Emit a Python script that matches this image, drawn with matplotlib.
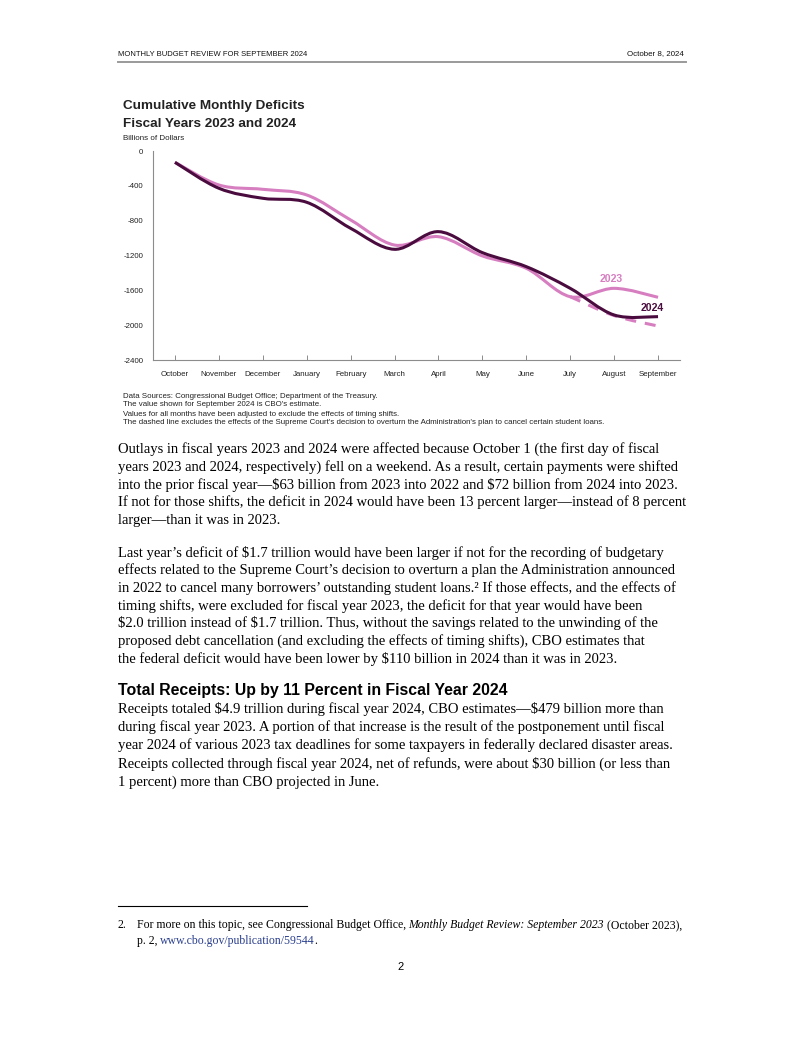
import matplotlib
matplotlib.use("Agg")
import matplotlib.pyplot as plt
import numpy as np
from matplotlib.path import Path
from matplotlib.patches import PathPatch
from matplotlib.lines import Line2D

plt.rcParams["text.parse_math"] = False

# chart data (billions of dollars, cumulative)
months = ["October", "November", "December", "January", "February", "March",
          "April", "May", "June", "July", "August", "September"]
fy2024 = [-130, -428, -543, -589, -888, -1129, -926, -1167, -1328, -1577, -1883, -1902]
fy2023 = [-130, -390, -440, -505, -792, -1080, -984, -1205, -1347, -1673, -1577, -1680]
dash_months = ["July", "August", "September"]
fy2023_no_loans = [-1673, -1890, -2010]
yticks = [0, -400, -800, -1200, -1600, -2000, -2400]

notes = [
    "Data Sources: Congressional Budget Office; Department of the Treasury.",
    "The value shown for September 2024 is CBO's estimate.",
    "Values for all months have been adjusted to exclude the effects of timing shifts.",
    "The dashed line excludes the effects of the Supreme Court's decision to overturn the Administration's plan to cancel certain student loans.",
]

para1 = [
    "Outlays in fiscal years 2023 and 2024 were affected because October 1 (the first day of fiscal",
    "years 2023 and 2024, respectively) fell on a weekend. As a result, certain payments were shifted",
    "into the prior fiscal year\u2014$63 billion from 2023 into 2022 and $72 billion from 2024 into 2023.",
    "If not for those shifts, the deficit in 2024 would have been 13 percent larger\u2014instead of 8 percent",
    "larger\u2014than it was in 2023.",
]
para2 = [
    "Last year\u2019s deficit of $1.7 trillion would have been larger if not for the recording of budgetary",
    "effects related to the Supreme Court\u2019s decision to overturn a plan the Administration announced",
    "in 2022 to cancel many borrowers\u2019 outstanding student loans.\u00b2 If those effects, and the effects of",
    "timing shifts, were excluded for fiscal year 2023, the deficit for that year would have been",
    "$2.0 trillion instead of $1.7 trillion. Thus, without the savings related to the unwinding of the",
    "proposed debt cancellation (and excluding the effects of timing shifts), CBO estimates that",
    "the federal deficit would have been lower by $110 billion in 2024 than it was in 2023.",
]
heading = "Total Receipts: Up by 11 Percent in Fiscal Year 2024"
para3 = [
    "Receipts totaled $4.9 trillion during fiscal year 2024, CBO estimates\u2014$479 billion more than",
    "during fiscal year 2023. A portion of that increase is the result of the postponement until fiscal",
    "year 2024 of various 2023 tax deadlines for some taxpayers in federally declared disaster areas.",
    "Receipts collected through fiscal year 2024, net of refunds, were about $30 billion (or less than",
    "1 percent) more than CBO projected in June.",
]

W, H = 802, 1037
DARK = "#4a0c3e"
PINK = "#d67ec0"
SANS = "Liberation Sans"
SERIF = "Liberation Serif"
BODY = 10.55


def fx(x):
    return x / W


def fy(y):
    return 1 - y / H


def smooth_path(xs, ys):
    # Catmull-Rom curve through the points, drawn as cubic Bezier segments
    pts = np.column_stack([xs, ys]).astype(float)
    ext = np.vstack([pts[0], pts, pts[-1]])
    verts = [pts[0]]
    codes = [Path.MOVETO]
    for i in range(len(pts) - 1):
        p0, p1, p2, p3 = ext[i], ext[i + 1], ext[i + 2], ext[i + 3]
        verts += [p1 + (p2 - p0) / 6, p2 - (p3 - p1) / 6, p2]
        codes += [Path.CURVE4] * 3
    return Path(verts, codes)


fig = plt.figure(figsize=(8.02, 10.37), dpi=100)

# page header
fig.text(fx(118), fy(54), "MONTHLY BUDGET REVIEW FOR SEPTEMBER 2024", fontsize=5.5,
         family=SANS, va="center", color="#111")
fig.text(fx(684), fy(54), "October 8, 2024", fontsize=5.7,
         family=SANS, va="center", ha="right", color="#111")
fig.add_artist(Line2D([fx(118), fx(686)], [fy(62), fy(62)], lw=1.4, color="#9a9a9a"))

# chart titles
fig.text(fx(123), fy(106), "Cumulative Monthly Deficits", fontsize=9.7, weight="bold",
         family=SANS, va="center", color="#222")
fig.text(fx(123), fy(124), "Fiscal Years 2023 and 2024", fontsize=9.7, weight="bold",
         family=SANS, va="center", color="#222")
fig.text(fx(123), fy(139), "Billions of Dollars", fontsize=5.8, family=SANS,
         va="center", color="#222")

ax = fig.add_axes([fx(153), fy(360), 527 / W, 209 / H])
x = np.arange(len(months))
xd = [months.index(m) for m in dash_months]

ax.add_patch(PathPatch(smooth_path(xd, fy2023_no_loans), fill=False, ec=PINK, lw=2.2,
                       ls=(0, (3.6, 2.9)), capstyle="butt"))
ax.add_patch(PathPatch(smooth_path(x, fy2023), fill=False, ec=PINK, lw=2.2))
ax.add_patch(PathPatch(smooth_path(x, fy2024), fill=False, ec=DARK, lw=2.2))

ax.text(9.93, -1470, "2023", color=PINK, fontsize=7.6, weight="bold", family=SANS,
        ha="center", va="center")
ax.text(10.87, -1803, "2024", color=DARK, fontsize=7.6, weight="bold", family=SANS,
        ha="center", va="center")

ax.set_xlim(-0.5, 11.5)
ax.set_ylim(-2400, 0)
ax.set_xticks(x)
ax.set_xticklabels(months)
ax.set_yticks(yticks)
ax.set_yticklabels([str(v) for v in yticks])
for s in ["top", "right"]:
    ax.spines[s].set_visible(False)
for s in ["left", "bottom"]:
    ax.spines[s].set_color("#8c8c8c")
    ax.spines[s].set_linewidth(0.8)
ax.tick_params(axis="x", direction="in", length=3.5, width=0.7, color="#8c8c8c",
               labelsize=5.7, pad=8, labelcolor="#222")
ax.tick_params(axis="y", length=0, labelsize=5.7, pad=7, labelcolor="#222")
for lab in ax.get_xticklabels() + ax.get_yticklabels():
    lab.set_family(SANS)

# chart notes
for i, line in enumerate(notes):
    fig.text(fx(123), fy(396 + 9 * i), line, fontsize=5.7, family=SANS, va="center",
             color="#222")

# body text
for i, line in enumerate(para1):
    fig.text(fx(118), fy(449 + 17.8 * i), line, fontsize=BODY, family=SERIF, va="center")
for i, line in enumerate(para2):
    fig.text(fx(118), fy(553 + 17.6 * i), line, fontsize=BODY, family=SERIF, va="center")
fig.text(fx(118), fy(690), heading, fontsize=11.4, weight="bold", family=SANS, va="center")
for i, line in enumerate(para3):
    fig.text(fx(118), fy(709 + 18.3 * i), line, fontsize=BODY, family=SERIF, va="center")

# footnote
fig.add_artist(Line2D([fx(118), fx(307)], [fy(906), fy(906)], lw=0.8, color="black"))
renderer = fig.canvas.get_renderer()


def run(xpx, ypx, pieces, size):
    xf = fx(xpx)
    for txt, style, color in pieces:
        t = fig.text(xf, fy(ypx), txt, fontsize=size, family=SERIF, style=style,
                     color=color, va="center")
        xf += (t.get_window_extent(renderer).width - 0.5) / W


fig.text(fx(118), fy(925), "2.", fontsize=8.5, family=SERIF, va="center")
run(137, 925, [("For more on this topic, see Congressional Budget Office, ", "normal", "black"),
               ("Monthly Budget Review: September 2023", "italic", "black"),
               (" (October 2023),", "normal", "black")], 8.5)
run(137, 941, [("p. 2, ", "normal", "black"),
               ("www.cbo.gov/publication/59544", "normal", "#2a3f8f"),
               (".", "normal", "black")], 8.5)

fig.text(fx(401), fy(967), "2", fontsize=8, family=SANS, ha="center", va="center")

fig.savefig("out.png", dpi=100)
